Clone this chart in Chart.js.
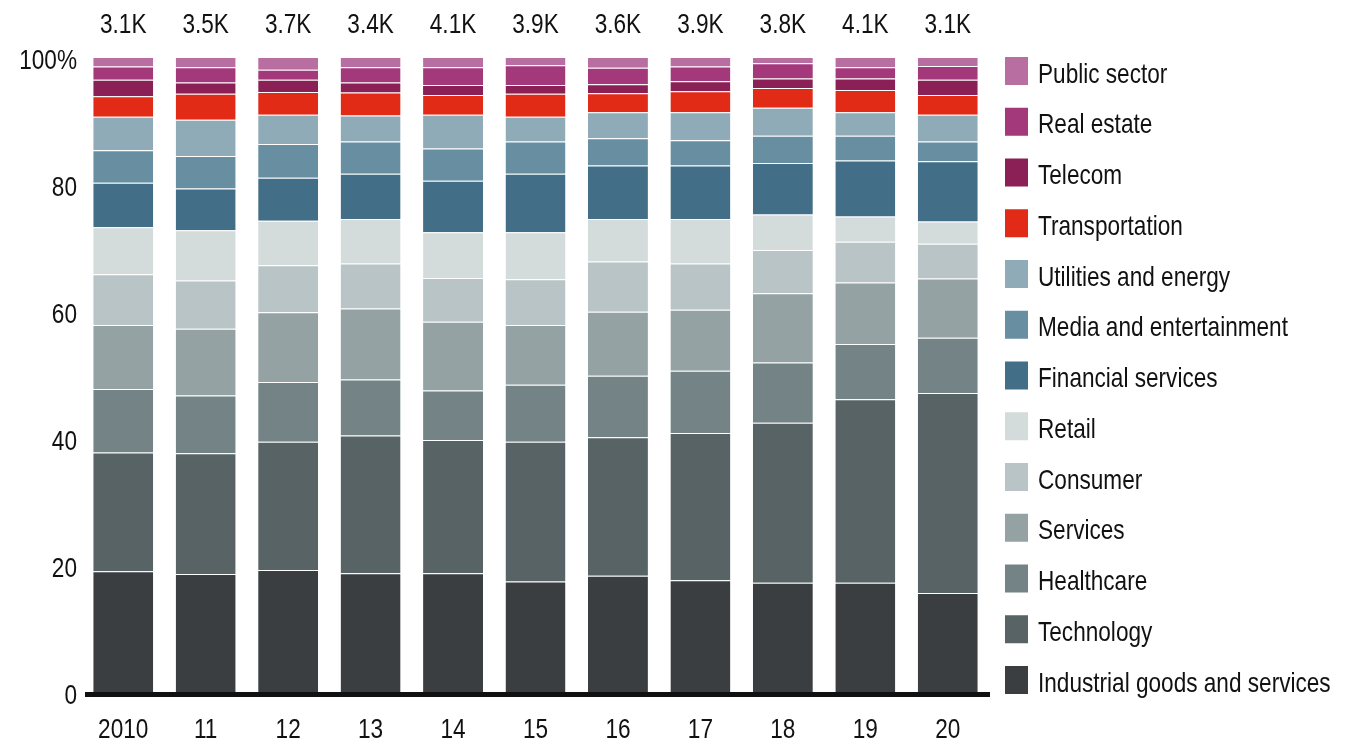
<!DOCTYPE html>
<html>
<head>
<meta charset="utf-8">
<title>Deals by sector</title>
<script src="https://cdn.jsdelivr.net/npm/chart.js@4"></script>
<style>
    html, body { margin: 0; padding: 0; background: #fff; }
    canvas { display: block; }
</style>
</head>
<body>
<canvas id="sectorChart" width="1358" height="743"></canvas>
<script>
// 年份与总数
const years = ['2010', '11', '12', '13', '14', '15', '16', '17', '18', '19', '20'];
const totals = ['3.1K', '3.5K', '3.7K', '3.4K', '4.1K', '3.9K', '3.6K', '3.9K', '3.8K', '4.1K', '3.1K'];
const yTicks = [0, 20, 40, 60, 80, 100];

// 各行业占比 (%)
const industrial = [19.0, 18.6, 19.2, 18.7, 18.7, 17.4, 18.3, 17.6, 17.2, 17.2, 15.6];
const technology = [18.7, 19.0, 20.2, 21.7, 21.0, 22.0, 21.8, 23.2, 25.2, 28.9, 31.5];
const healthcare = [10.0, 9.1, 9.4, 8.8, 7.8, 9.0, 9.7, 9.8, 9.5, 8.7, 8.7];
const services = [10.1, 10.5, 11.0, 11.2, 10.8, 9.4, 10.1, 9.6, 10.9, 9.7, 9.3];
const consumer = [8.0, 7.6, 7.4, 7.1, 6.9, 7.2, 7.9, 7.3, 6.8, 6.4, 5.5];
const retail = [7.4, 7.9, 7.0, 7.0, 7.2, 7.4, 6.7, 7.0, 5.6, 4.0, 3.5];
const financial = [7.0, 6.6, 6.8, 7.1, 8.1, 9.2, 8.4, 8.4, 8.1, 8.8, 9.5];
const media = [5.1, 5.1, 5.3, 5.1, 5.1, 5.1, 4.3, 4.0, 4.3, 3.9, 3.1];
const utilities = [5.3, 5.7, 4.6, 4.1, 5.3, 3.9, 4.1, 4.4, 4.4, 3.7, 4.2];
const transportation = [3.2, 4.1, 3.6, 3.6, 3.1, 3.6, 3.0, 3.3, 3.1, 3.5, 3.1];
const telecom = [2.6, 1.8, 1.9, 1.6, 1.6, 1.4, 1.4, 1.6, 1.5, 1.8, 2.4];
const realEstate = [2.1, 2.4, 1.6, 2.4, 2.8, 3.1, 2.6, 2.3, 2.4, 1.8, 2.2];
const publicSector = [1.5, 1.6, 2.0, 1.6, 1.6, 1.3, 1.7, 1.5, 1.0, 1.6, 1.4];

const sectorNames = ['Industrial goods and services', 'Technology', 'Healthcare', 'Services', 'Consumer', 'Retail',
    'Financial services', 'Media and entertainment', 'Utilities and energy', 'Transportation', 'Telecom',
    'Real estate', 'Public sector'];
const sectorValues = [industrial, technology, healthcare, services, consumer, retail,
    financial, media, utilities, transportation, telecom, realEstate, publicSector];
const sectorColors = ['#3a3e41', '#586365', '#738386', '#94a2a3', '#b8c4c5', '#d3dcdb',
    '#426e87', '#678fa1', '#8eabb7', '#e12b17', '#8a2056', '#a3397b', '#b86ea1'];

const FONT_FAMILY = '"Liberation Sans", Arial, sans-serif';
const FONT_SIZE = 22.6;
const STRETCH = 1.22;   // 原图文字被纵向拉伸
const TEXT_COLOR = '#111';

// 纵向拉伸的文字
function tallText(ctx, text, x, y) {
    ctx.save();
    ctx.translate(x, y + 3);
    ctx.scale(1, STRETCH);
    ctx.fillText(text, 0, 0);
    ctx.restore();
}

// 坐标轴标签、顶部总数、X轴粗线和右侧图例
const extrasPlugin = {
    id: 'extras',
    afterDatasetsDraw(chart) {
        const ctx = chart.ctx;
        const area = chart.chartArea;
        const xScale = chart.scales.x;
        const yScale = chart.scales.y;
        ctx.save();
        ctx.fillStyle = '#111';
        ctx.fillRect(85, area.bottom, 990 - 85, 5);

        ctx.fillStyle = TEXT_COLOR;
        ctx.font = FONT_SIZE + 'px ' + FONT_FAMILY;
        ctx.textBaseline = 'middle';

        ctx.textAlign = 'center';
        totals.forEach((t, i) => tallText(ctx, t, xScale.getPixelForValue(i), 22));
        years.forEach((t, i) => tallText(ctx, t, xScale.getPixelForValue(i), 727));

        ctx.textAlign = 'right';
        yTicks.forEach(v => {
            const y = Math.min(yScale.getPixelForValue(v) + 1, 695);
            tallText(ctx, v === 100 ? '100%' : String(v), 77, y);
        });

        ctx.textAlign = 'left';
        for (let k = 0; k < sectorNames.length; k++) {
            const idx = sectorNames.length - 1 - k;
            const y = 71 + k * 50.75;
            ctx.fillStyle = sectorColors[idx];
            ctx.fillRect(1005, y - 14, 23, 28);
            ctx.fillStyle = TEXT_COLOR;
            tallText(ctx, sectorNames[idx], 1038, y + 1);
        }
        ctx.restore();
    }
};

// 初始化堆叠柱状图
function initSectorChart() {
    const ctx = document.getElementById('sectorChart').getContext('2d');
    new Chart(ctx, {
        type: 'bar',
        data: {
            labels: years,
            datasets: sectorNames.map((name, i) => ({
                label: name,
                data: sectorValues[i],
                backgroundColor: sectorColors[i],
                borderColor: 'rgba(255,255,255,0.25)',
                borderWidth: { top: 1, left: 0, right: 0, bottom: 0 },
                borderSkipped: false,
                categoryPercentage: 1,
                barPercentage: 0.727
            }))
        },
        options: {
            responsive: false,
            animation: false,
            devicePixelRatio: 1,
            layout: { padding: { left: 0, right: 369, top: 57, bottom: 0 } },
            plugins: {
                legend: { display: false },
                tooltip: { enabled: false }
            },
            scales: {
                x: {
                    stacked: true,
                    grid: { display: false, drawTicks: false },
                    border: { display: false },
                    ticks: { display: false },
                    afterFit(scale) { scale.height = 51; }
                },
                y: {
                    stacked: true,
                    min: 0,
                    max: 100,
                    afterBuildTicks(scale) { scale.ticks = yTicks.map(v => ({ value: v })); },
                    grid: { display: false, drawTicks: false },
                    border: { display: false },
                    ticks: { display: false },
                    afterFit(scale) { scale.width = 82; }
                }
            }
        },
        plugins: [extrasPlugin]
    });
}

document.addEventListener('DOMContentLoaded', function() {
    initSectorChart();
});
</script>
</body>
</html>
